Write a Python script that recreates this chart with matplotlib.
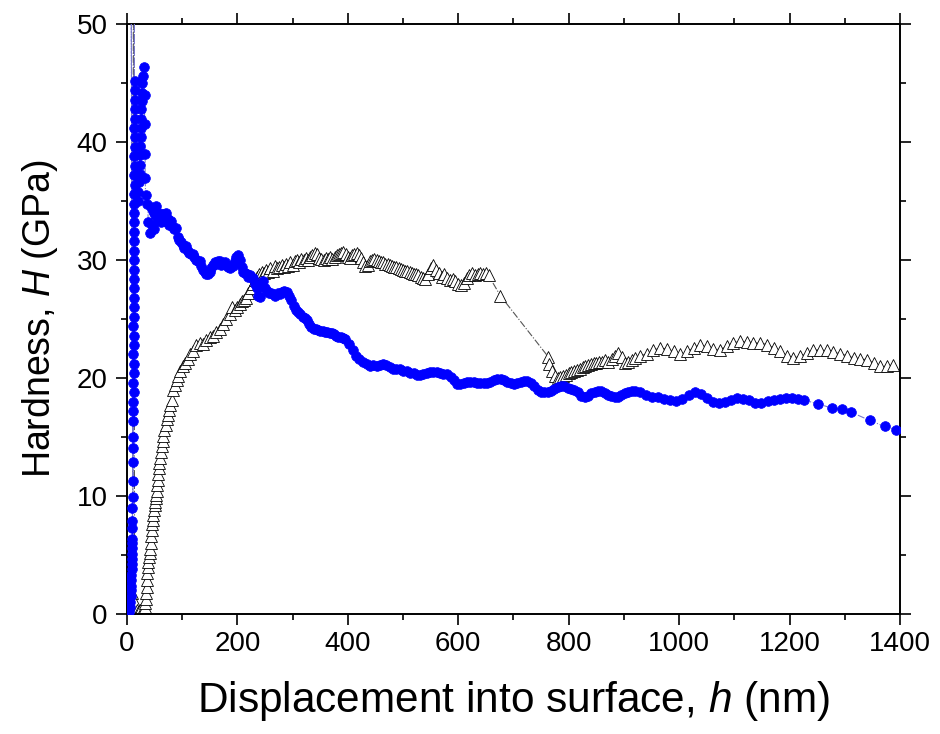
import matplotlib
matplotlib.use('Agg')
from matplotlib import pyplot as plt
from matplotlib.ticker import MultipleLocator

plt.rcParams['font.family'] = ['Liberation Sans', 'DejaVu Sans']
plt.rcParams['mathtext.fontset'] = 'custom'
plt.rcParams['mathtext.rm'] = 'Liberation Sans'
plt.rcParams['mathtext.it'] = 'Liberation Sans:italic'

# Serie azul (circulos cheios): profundidade h (nm) e dureza H (GPa)
blue_h = [
    4, 5, 6, 7, 7, 8, 8, 8, 9, 9, 9, 9, 9, 10, 10, 10, 10, 10, 11, 7,
    11, 11, 11, 11, 11, 11, 11, 12, 11, 12, 12, 11, 12, 12, 11, 12, 12, 12, 13, 12,
    12, 13, 12, 13, 13, 12, 13, 14, 13, 13, 14, 13, 14, 13, 14, 14, 13, 14, 14, 15,
    14, 15,
    20, 21, 22, 23, 23, 24, 24, 25, 25, 26, 26, 27, 27, 28, 29, 31, 32, 32, 33, 33, 34,
    37, 39, 41, 43, 45, 47, 49, 51, 53, 56, 59, 62, 65, 68, 71, 74, 77, 80, 83, 86,
    89, 92, 95, 98, 101, 104, 107, 110, 113, 116, 119, 122, 125, 129, 132, 135, 138,
    141, 144, 147, 150, 153, 156, 159, 162, 165, 168, 171, 174, 177, 180, 183, 186,
    189, 192, 195, 198, 201,
    205, 208, 211, 214, 217, 220, 223, 226, 229, 232, 235, 238, 241, 244, 247, 250,
    253, 257, 261, 265, 269, 273, 277, 281, 285, 289, 293, 298, 302, 306, 310, 314,
    318, 322, 326, 330, 334, 338, 342, 346, 350, 355, 359, 363, 367, 371, 375, 379,
    383, 387, 391, 395, 402, 410,
    415, 421, 427, 434, 440, 446, 452, 458, 464, 470, 476, 482, 488, 494, 500, 507,
    513, 519, 525, 531, 537, 543, 549, 555, 561, 567, 573, 579, 586, 592, 598, 604,
    610, 616, 622, 628, 634, 640, 646, 652, 658, 665, 671, 677, 683, 689, 695, 701,
    707, 713, 719, 725, 731, 737, 744, 750, 756, 762, 768, 774, 780, 786, 792, 798,
    804, 810, 816, 823, 829, 835, 841, 847, 853, 859, 865, 871, 877, 883, 889, 895,
    902, 908, 914, 920,
    929, 940, 951, 962, 973, 984, 995, 1006, 1017, 1028, 1039, 1050, 1061, 1072,
    1083, 1094, 1105, 1116, 1127, 1138, 1149, 1160, 1171, 1182, 1193, 1204, 1215, 1226,
    1251, 1276, 1294, 1311, 1345, 1372, 1393,
]
blue_H = [
    0.2, 0.6, 1.0, 1.5, 2.0, 2.4, 2.9, 3.3, 3.8, 4.2, 4.7, 5.1, 5.6, 6.0, 6.4, 7.3, 7.9, 9.0, 9.9, 62.0,
    11.3, 12.9, 14.1, 15.0, 16.4, 17.2, 18.0, 18.8, 19.6, 20.4, 21.2, 22.0, 22.8, 23.6, 24.4, 25.2, 26.0, 26.8, 27.6, 28.4,
    29.2, 30.0, 30.8, 31.6, 32.4, 33.2, 34.0, 58.0, 34.8, 35.6, 36.4, 37.2, 38.0, 38.8, 39.6, 40.4, 41.2, 42.0, 42.8, 43.6,
    44.4, 45.2,
    35.0, 35.8, 36.6, 37.3, 38.1, 38.9, 39.7, 40.4, 41.2, 42.0, 42.8, 43.5, 44.2, 45.0, 45.6, 46.4, 44.0, 41.5, 39.0, 37.0, 35.5,
    34.8, 33.2, 32.3, 34.5, 33.0, 34.2, 32.6, 33.8, 34.6, 33.4, 34.0, 33.2, 33.9, 33.3, 34.0, 33.5, 33.0, 33.3, 32.8, 32.6,
    32.7, 32.0, 31.7, 31.5, 31.3, 31.0, 31.2, 30.8, 30.6, 30.5, 30.5, 30.3, 30.0, 29.9, 29.9, 29.5, 29.2,
    29.0, 28.8, 28.8, 29.0, 29.3, 29.6, 29.8, 29.7, 29.9, 29.9, 29.6, 29.7, 29.8, 29.6, 29.4, 29.3,
    29.5, 29.5, 29.9, 30.3, 30.4,
    30.0, 29.4, 29.0, 28.9, 28.8, 28.6, 28.7, 28.5, 28.5, 28.0, 27.6, 27.0, 26.9, 27.8, 28.2, 27.6,
    27.4, 27.2, 27.2, 27.1, 27.0, 27.2, 27.1, 27.3, 27.4, 27.3, 27.0, 26.6, 26.1, 25.8, 25.6, 25.4,
    25.2, 25.1, 24.9, 24.6, 24.3, 24.2, 24.2, 24.1, 24.0, 24.0, 23.9, 23.9, 23.8, 23.8, 23.7, 23.6,
    23.5, 23.5, 23.4, 23.3, 22.9, 22.4,
    21.9, 21.6, 21.4, 21.2, 21.0, 21.1, 21.0, 21.1, 21.2, 21.1, 20.9, 20.8, 20.8, 20.75, 20.6, 20.6,
    20.47, 20.4, 20.3, 20.27, 20.35, 20.45, 20.5, 20.55, 20.5, 20.4, 20.35, 20.33, 20.1, 19.8, 19.5, 19.5,
    19.6, 19.65, 19.7, 19.68, 19.6, 19.6, 19.55, 19.57, 19.7, 19.8, 19.9, 19.9, 19.8, 19.7, 19.6, 19.54,
    19.6, 19.7, 19.75, 19.76, 19.6, 19.3, 19.0, 18.85, 18.8, 18.8, 18.9, 19.1, 19.25, 19.34, 19.3, 19.2,
    19.05, 18.98, 18.8, 18.5, 18.4, 18.5, 18.7, 18.85, 18.9, 18.9, 18.75, 18.6, 18.45, 18.36, 18.4, 18.55,
    18.7, 18.85, 18.92, 18.9,
    18.85, 18.55, 18.42, 18.4, 18.25, 18.1, 18.03, 18.2, 18.55, 18.79, 18.65, 18.3, 17.98, 17.85,
    17.95, 18.15, 18.3, 18.25, 18.1, 17.85, 17.9, 18.03, 18.13, 18.22, 18.3, 18.28, 18.22, 18.13,
    17.83, 17.46, 17.37, 17.12, 16.41, 15.9, 15.62,
]

# Serie de triangulos abertos
tri_h = [
    10, 12, 14, 18, 21, 24, 27, 30, 32, 33, 34, 35, 35.5, 36, 37, 38, 39, 40, 41, 42,
    43, 44, 45, 46, 47, 48, 49, 50, 51, 52, 53, 54, 55, 56, 57, 58, 59, 60, 62, 63,
    65, 66, 68, 70, 72, 74, 76, 78, 81, 84, 87, 90, 93, 97, 101, 105, 110, 115, 120, 126,
    132, 138, 144, 150, 156, 162, 168, 174, 180, 186, 190, 195,
    200, 204, 208, 212, 216, 220, 224, 228, 232, 236, 240, 244, 248, 252, 256, 260,
    264, 268, 272, 276, 280, 284, 288, 292, 296, 300, 304, 308, 312, 316, 320, 324,
    328, 332, 336, 340, 344, 348, 352, 356, 360, 364, 368, 372, 376, 380, 384, 388,
    392, 396, 400, 404, 408, 412, 416, 420, 424, 428, 432, 436, 440, 444, 448,
    452, 456, 460, 464, 468, 472, 476, 480, 484, 488, 492, 496, 500, 504, 508, 512,
    516, 520, 524, 528, 532, 536,
    540, 545, 550, 555, 560, 565, 570, 575, 580, 585, 590, 595, 600, 605, 610, 615,
    620, 625, 630, 635, 640, 645, 650, 655, 676,
    763, 765, 770, 775, 780, 785, 790, 795, 800, 805, 810, 815, 820, 825, 830, 835,
    840, 845, 850, 855, 860, 866, 872, 878, 884, 890, 896, 902, 908, 914, 920,
    929, 941, 953, 965, 978, 990, 1002, 1014, 1026, 1038, 1050, 1062, 1074, 1086,
    1098, 1110, 1122, 1134, 1147, 1159, 1171, 1183, 1195, 1207, 1219, 1231, 1243,
    1255, 1267, 1279, 1291, 1304, 1316, 1328, 1340, 1352, 1364, 1376, 1388,
]
tri_H = [
    1.8, 60.0, 0.9, 0.3, 0.2, 0.3, 0.2, 0.4, 0.6, 0.9, 1.3, 1.8, 2.3, 2.9, 3.5, 4.0, 4.4, 4.8, 5.2, 5.5,
    6.0, 6.6, 7.1, 7.6, 8.0, 8.4, 8.8, 9.2, 9.5, 9.8, 10.1, 10.4, 10.9, 11.4, 11.9, 12.4, 12.8, 13.2, 13.7, 14.2,
    14.7, 15.1, 15.6, 16.0, 16.5, 16.9, 17.3, 17.7, 18.1, 19.0, 19.4, 19.8, 20.2, 20.6, 21.0, 21.3, 21.6, 22.0, 22.3, 22.8,
    23.0, 22.9, 23.2, 23.5, 23.6, 23.9, 24.2, 24.6, 25.0, 25.4, 26.0, 25.8,
    26.0, 26.3, 26.5, 26.6, 26.8, 27.2, 27.6, 28.0, 28.3, 28.6, 28.8, 29.0, 28.9, 29.2, 29.0, 29.3,
    29.1, 29.5, 29.3, 29.4, 29.6, 29.4, 29.7, 29.5, 29.8, 29.6, 29.9, 30.0, 29.8, 30.1, 30.0, 30.2,
    30.0, 30.3, 30.4, 30.6, 30.5, 30.2, 30.1, 30.0, 30.2, 30.1, 30.3, 30.1, 30.3, 30.4, 30.5, 30.6,
    30.7, 30.5, 30.3, 30.2, 30.4, 30.5, 30.6, 30.4, 30.2, 29.8, 29.5, 29.6, 29.9, 30.0, 30.1,
    30.0, 29.9, 29.85, 29.8, 29.7, 29.65, 29.6, 29.5, 29.45, 29.4, 29.3, 29.25, 29.2, 29.1, 29.05, 29.0,
    28.9, 28.85, 28.8, 28.7, 28.6, 28.5,
    28.4, 28.8, 29.3, 29.6, 29.2, 28.9, 28.6, 28.8, 28.5, 28.3, 28.4, 28.2, 28.0, 27.9, 28.1, 28.5,
    28.7, 28.9, 28.7, 28.8, 28.9, 28.8, 28.9, 28.7, 27.0,
    21.8, 21.2, 20.6, 20.2, 20.0, 20.1, 20.2, 20.3, 20.4, 20.5, 20.6, 20.7, 20.8, 20.9, 21.0, 21.1,
    21.2, 21.3, 21.3, 21.4, 21.4, 21.5, 21.4, 21.6, 21.9, 22.1, 21.8, 21.3, 21.4, 21.5, 21.7,
    21.84, 22.07, 22.35, 22.55, 22.47, 22.27, 22.07, 22.27, 22.55, 22.84, 22.69, 22.47, 22.41, 22.69,
    22.98, 23.12, 23.03, 22.98, 22.98, 22.84, 22.55, 22.27, 21.9, 21.7, 21.84, 22.13, 22.35,
    22.41, 22.35, 22.21, 22.07, 21.9, 21.7, 21.62, 21.56, 21.28, 21.05, 20.99, 21.13,
]

fig = plt.figure(figsize=(9.4, 7.34), dpi=100)
ax = fig.add_axes([0.135, 0.1635, 0.8225, 0.8035])

ax.plot(tri_h, tri_H, linestyle='-.', color='#555555', linewidth=0.8,
        marker='^', markersize=8.2, markerfacecolor='white',
        markeredgecolor='black', markeredgewidth=0.6, zorder=2)
ax.plot(blue_h, blue_H, linestyle='-.', color='#7777cc', linewidth=0.8,
        marker='o', markersize=7, markerfacecolor='#0000ff',
        markeredgecolor='#0000ff', markeredgewidth=0.5, zorder=3)

ax.set_xlim(0, 1400)
ax.set_ylim(0, 50)
ax.xaxis.set_major_locator(MultipleLocator(200))
ax.xaxis.set_minor_locator(MultipleLocator(100))
ax.yaxis.set_major_locator(MultipleLocator(10))
ax.yaxis.set_minor_locator(MultipleLocator(5))

ax.tick_params(which='both', direction='out', top=True, right=True, width=1.2)
ax.tick_params(which='major', length=8, labelsize=20)
ax.tick_params(which='minor', length=4.5)
ax.tick_params(axis='y', pad=6)
ax.tick_params(axis='x', pad=4)
for sp in ax.spines.values():
    sp.set_linewidth(1.4)

ax.set_xlabel(r'Displacement into surface, $h$ (nm)', fontsize=30.5, labelpad=16)
ax.set_ylabel(r'Hardness, $H$ (GPa)', fontsize=27, labelpad=12)

plt.savefig('out.png', dpi=100)
